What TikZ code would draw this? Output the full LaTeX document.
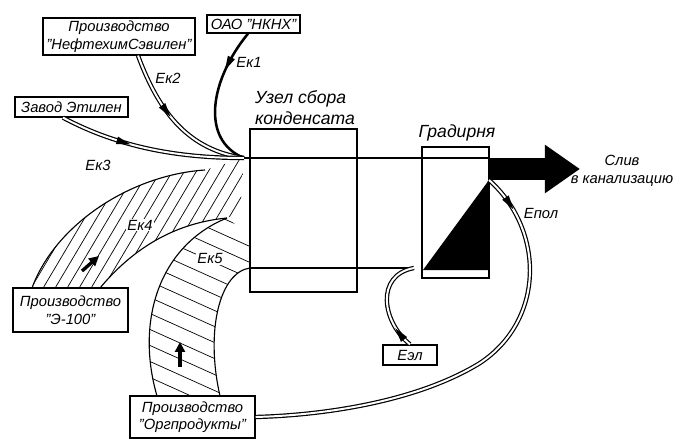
\documentclass[tikz,border=0pt]{standalone}
\usepackage{fontspec}
\setmainfont{Liberation Sans}
\usepackage{tikz}
\usetikzlibrary{arrows.meta}
\usetikzlibrary{calc}
\usetikzlibrary{decorations.markings}

\tikzset{flowmark/.style={postaction={decorate,decoration={markings,
	mark=at position #1 with {\fill (-5pt,-2.8pt) -- (5pt,0pt) -- (-5pt,2.8pt) -- cycle;}}}}}

\begin{document}
\begin{tikzpicture}[x=0.025cm,y=-0.025cm,semithick,font=\fontsize{10.5}{12.5}\selectfont\itshape]
	\tikzstyle{plant}=[draw=black, fill=white, line width=0.9pt, inner sep=0pt, align=center]
	\tikzstyle{pipe}=[draw=black, double=white, double distance=1.4pt, line width=0.85pt]
	\tikzstyle{hatch}=[line width=0.5pt]
	\tikzstyle{edge}=[line width=0.8pt]
	\tikzstyle{biglabel}=[font=\fontsize{12.5}{15}\selectfont\itshape, align=left, inner sep=0pt]
	\useasboundingbox (0,0) rectangle (678,440);

	\begin{scope}
		\clip (32,288) .. controls (55,225) and (130,175) .. (205,170) -- (244,158) -- (240,212) -- (227,218) .. controls (185,222) and (140,240) .. (100,288) -- cycle;
		\foreach \i in {-120,-108,...,250}
			\draw[hatch] (\i,300) -- ++(95,-160);
	\end{scope}
	\begin{scope}
		\clip (157,396) .. controls (135,320) and (160,245) .. (227,218) -- (250,236) -- (250,268) .. controls (220,272) and (205,330) .. (220,396) -- cycle;
		\foreach \i in {140,156,...,420}
			\draw[hatch] (120,\i) -- ++(160,72);
	\end{scope}
	\draw[edge] (32,288) .. controls (55,225) and (130,175) .. (205,170);
	\draw[edge] (227,218) .. controls (185,222) and (140,240) .. (100,288);
	\draw[edge] (157,396) .. controls (135,320) and (160,245) .. (227,218);
	\draw[edge] (250,268) .. controls (220,272) and (205,330) .. (220,396);

	\draw[-{Triangle[length=7pt,width=7pt]}, line width=2.4pt] (82,271) -- (99,256);
	\draw[-{Triangle[length=7pt,width=7pt]}, line width=2.4pt] (180,367) -- (180,342);

	\node[plant, minimum width=2.33cm, minimum height=0.45cm] (nknh) at (253.5,24) {ОАО "НКНХ"};
	\node[plant, minimum width=3.8cm, minimum height=0.925cm] (sevilen) at (119,36.5) {Производство\\"НефтехимСэвилен"};
	\node[plant, minimum width=2.825cm, minimum height=0.5cm] (zavod) at (71.5,107) {Завод Этилен};
	\node[plant, minimum width=2.875cm, minimum height=1.1cm] (e100) at (70.5,310) {Производство\\"Э-100"};
	\node[plant, minimum width=3.125cm, minimum height=1.05cm] (orgprod) at (192.5,417) {Производство\\"Оргпродукты"};
	\node[plant, minimum width=1.35cm, minimum height=0.5cm] (eel) at (410,355) {Еэл};
	\node[draw, edge, minimum width=2.675cm, minimum height=4.075cm] (uzel) at (303.5,210.5) {};
	\node[draw, edge, minimum width=1.675cm, minimum height=3.275cm] (grad) at (455.5,212.5) {};

	\coordinate (jn) at (244,158);
	\coordinate (gradout) at (489,180);
	\coordinate (slivtip) at (580,169);

	\draw[line width=1.8pt, flowmark=0.25] (nknh.south -| 248,0) .. controls (210,80) and (200,140) .. (jn);
	\path[pipe, flowmark=0.4] (sevilen.south -| 138,0) .. controls (160,115) and (190,150) .. (jn);
	\path[pipe, flowmark=0.35] (zavod.south -| 63,0) .. controls (120,148) and (180,158) .. (jn);

	\draw[edge] (jn) -- (grad.east |- jn);
	\draw[edge] (uzel.west |- 0,268) -- (414,268);
	\fill (gradout) -- (489,270) -- (423,270) -- cycle;
	\draw[line width=0.55cm, -{Triangle[length=0.875cm,width=1.15cm]}] (grad.east |- slivtip) -- (slivtip);

	\path[pipe, flowmark=0.15] (eel.north) .. controls (382,322) and (375,275) .. (414,268);
	\path[pipe, flowmark=0.07] (gradout) .. controls (545,230) and (545,320) .. (480,363) .. controls (420,400) and (330,415) .. (orgprod.east);

	\node[biglabel] (uzeltxt) at (305,108) {Узел сбора\\конденсата};
	\node[biglabel] (gradtxt) at (457,133) {Градирня};
	\node[align=center, inner sep=0pt] (sliv) at (622,171) {Слив\\в канализацию};
	\node (ek1) at (249,62) {Ек1};
	\node (ek2) at (168,78) {Ек2};
	\node (ek3) at (98,165) {Ек3};
	\node[fill=white, inner sep=1pt] (ek4) at (140,225) {Ек4};
	\node[fill=white, inner sep=1pt] (ek5) at (210,258) {Ек5};
	\node (epol) at (541,213) {Епол};
\end{tikzpicture}
\end{document}
